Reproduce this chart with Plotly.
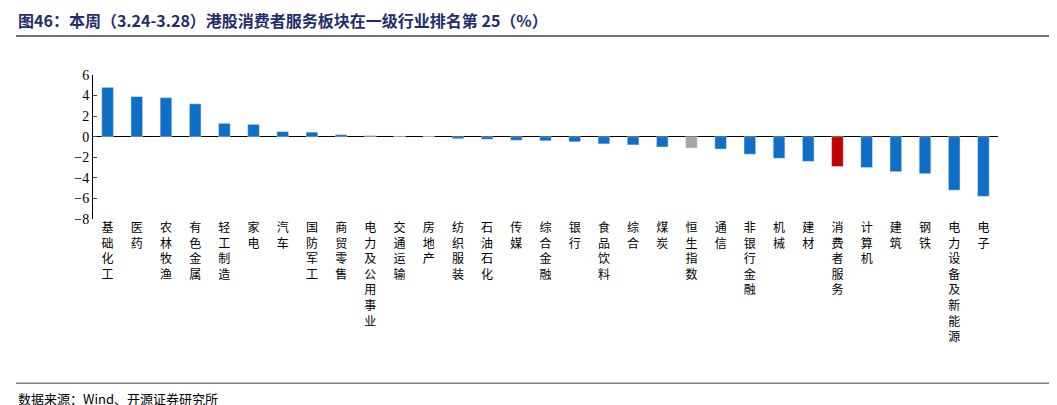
import plotly.graph_objects as go

categories = ['基础化工', '医药', '农林牧渔', '有色金属', '轻工制造', '家电', '汽车', '国防军工',
              '商贸零售', '电力及公用事业', '交通运输', '房地产', '纺织服装', '石油石化', '传媒',
              '综合金融', '银行', '食品饮料', '综合', '煤炭', '恒生指数', '通信', '非银行金融',
              '机械', '建材', '消费者服务', '计算机', '建筑', '钢铁', '电力设备及新能源', '电子']
values = [4.8, 3.9, 3.8, 3.2, 1.3, 1.2, 0.5, 0.45, 0.2, 0.1, 0.05, 0.02, -0.2, -0.25, -0.35,
          -0.4, -0.5, -0.7, -0.8, -1.0, -1.1, -1.2, -1.7, -2.1, -2.4, -2.9, -3.0, -3.4, -3.6,
          -5.2, -5.8]
y_ticks = [6, 4, 2, 0, -2, -4, -6, -8]

colors = []
for c in categories:
    if c == '恒生指数':
        colors.append('#A6A6A6')
    elif c == '消费者服务':
        colors.append('#C00000')
    else:
        colors.append('#0F6FC6')

labels = ['<br>'.join(c) for c in categories]

fig = go.Figure(go.Bar(x=labels, y=values, marker_color=colors, width=0.4))

fig.update_layout(
    width=1057, height=405,
    margin=dict(l=85, r=67, t=67, b=194),
    plot_bgcolor='white', paper_bgcolor='white',
    font=dict(family='Noto Sans CJK SC', size=12, color='black'),
    showlegend=False,
)
fig.update_yaxes(range=[-8, 6], tickvals=y_ticks, showline=True, linecolor='black',
                 ticks='inside', ticklen=4, showgrid=False, zeroline=True,
                 zerolinecolor='black', zerolinewidth=1,
                 tickfont=dict(family='Liberation Serif', size=14))
fig.update_xaxes(showline=False, showgrid=False, ticks='', tickangle=0,
                 tickfont=dict(size=12))

fig.add_annotation(text='<b>图46：本周（3.24-3.28）港股消费者服务板块在一级行业排名第 25（%）</b>',
                   xref='paper', yref='paper', x=-0.085, y=0.29, xanchor='left', yanchor='bottom',
                   yshift=0, showarrow=False, font=dict(size=16, color='#1F2D6B'),
                   yref_ignore=None) if False else None
fig.add_annotation(text='<b>图46：本周（3.24-3.28）港股消费者服务板块在一级行业排名第 25（%）</b>',
                   xref='paper', yref='paper', x=-0.085, y=1.0, xanchor='left', yanchor='bottom',
                   yshift=41, showarrow=False, font=dict(size=16, color='#1F2D6B'))
fig.add_shape(type='line', xref='paper', yref='paper', x0=-0.085, x1=1.074, y0=1.27, y1=1.27,
              line=dict(color='#404040', width=1.5))
fig.add_shape(type='line', xref='paper', yref='paper', x0=-0.085, x1=1.074, y0=-1.14, y1=-1.14,
              line=dict(color='#404040', width=1))
fig.add_annotation(text='数据来源：Wind、开源证券研究所', xref='paper', yref='paper',
                   x=-0.085, y=-1.17, xanchor='left', yanchor='top', showarrow=False,
                   font=dict(size=13))

fig.write_html('out.html')
